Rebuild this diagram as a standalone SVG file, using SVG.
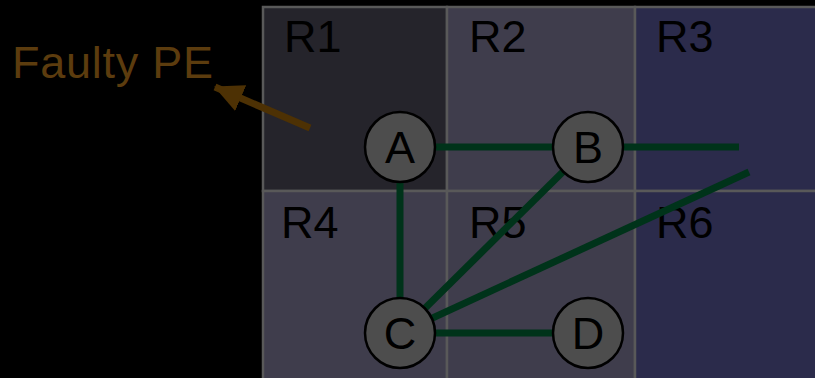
<svg xmlns="http://www.w3.org/2000/svg" width="815" height="378" viewBox="0 0 815 378">
  <defs>
    <style>
      .cell { stroke: #595959; stroke-width: 2.5; }
      .dark { fill: #25242b; }
      .mid { fill: #3f3d4c; }
      .blue { fill: #2b2b4b; }
      .rlabel { font-family: "Liberation Sans", Arial, sans-serif; font-size: 45px; fill: #000; }
      .edge { stroke: #00331a; stroke-width: 7; fill: none; }
      .node circle { fill: #4d4d4d; stroke: #000; stroke-width: 2.5; }
      .node text { font-family: "Liberation Sans", Arial, sans-serif; font-size: 45px; fill: #000; text-anchor: middle; }
    </style>
    <marker id="arrowhead" markerUnits="userSpaceOnUse" markerWidth="32" markerHeight="28" refX="28" refY="14" orient="auto">
      <path d="M0,0 L29,14 L0,28 Z" fill="#4d3104"/>
    </marker>
  </defs>

  <rect width="815" height="378" fill="#000"/>

  <!-- region grid -->
  <g id="regions">
    <rect class="cell dark" x="263" y="7" width="184" height="184"/>
    <rect class="cell mid" x="447" y="7" width="188" height="184"/>
    <rect class="cell blue" x="635" y="7" width="190" height="184"/>
    <rect class="cell mid" x="263" y="191" width="184" height="200"/>
    <rect class="cell mid" x="447" y="191" width="188" height="200"/>
    <rect class="cell blue" x="635" y="191" width="190" height="200"/>
    <text class="rlabel" x="284" y="52">R1</text>
    <text class="rlabel" x="469" y="52">R2</text>
    <text class="rlabel" x="656" y="52">R3</text>
    <text class="rlabel" x="281" y="238">R4</text>
    <text class="rlabel" x="469" y="238">R5</text>
    <text class="rlabel" x="656" y="238">R6</text>
  </g>

  <!-- connectors -->
  <g id="connectors">
    <line class="edge" x1="400" y1="147" x2="588" y2="147"/>
    <line class="edge" x1="588" y1="147" x2="739" y2="147"/>
    <line class="edge" x1="400" y1="147" x2="400" y2="333"/>
    <line class="edge" x1="400" y1="333" x2="588" y2="147"/>
    <line class="edge" x1="400" y1="333" x2="749" y2="172"/>
    <line class="edge" x1="400" y1="333" x2="588" y2="333"/>
  </g>

  <g id="nodeA" class="node">
    <circle cx="400" cy="147" r="35"/>
    <text x="400" y="163">A</text>
  </g>
  <g id="nodeB" class="node">
    <circle cx="588" cy="147" r="35"/>
    <text x="588" y="163">B</text>
  </g>
  <g id="nodeC" class="node">
    <circle cx="400" cy="333" r="35"/>
    <text x="400" y="349">C</text>
  </g>
  <g id="nodeD" class="node">
    <circle cx="588" cy="333" r="35"/>
    <text x="588" y="349">D</text>
  </g>

  <!-- faulty PE callout -->
  <g id="faulty">
    <text x="12" y="78" font-family="Liberation Sans, Arial, sans-serif" font-size="45" fill="#5c3c0e" textLength="201" lengthAdjust="spacing">Faulty PE</text>
    <line x1="310" y1="128" x2="215" y2="87" stroke="#4d3104" stroke-width="7" marker-end="url(#arrowhead)"/>
  </g>
</svg>
